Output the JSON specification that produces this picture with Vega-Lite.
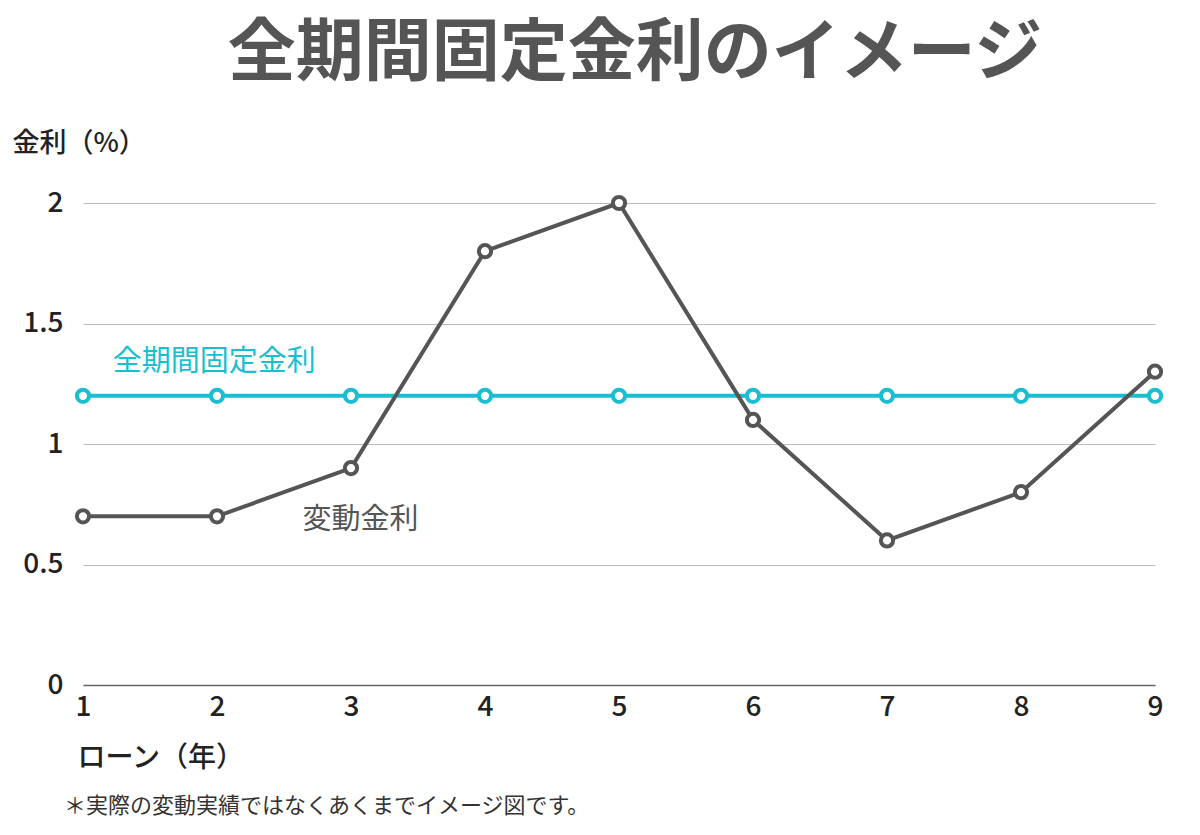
{
  "$schema": "https://vega.github.io/schema/vega-lite/v6.json",
  "width": 1072,
  "height": 482,
  "autosize": {"type": "none"},
  "padding": {"left": 83, "top": 203, "right": 45, "bottom": 150},
  "background": "white",
  "config": {"font": "Noto Sans CJK JP", "view": {"stroke": null}},
  "title": {
    "text": "全期間固定金利のイメージ",
    "fontSize": 68,
    "fontWeight": "bold",
    "color": "#555555",
    "anchor": "middle",
    "dx": 16,
    "offset": 40,
    "font": "Noto Sans CJK JP"
  },
  "datasets": {
    "rates": [
      {"year": 1, "rate": 1.2, "series": "fixed"},
      {"year": 2, "rate": 1.2, "series": "fixed"},
      {"year": 3, "rate": 1.2, "series": "fixed"},
      {"year": 4, "rate": 1.2, "series": "fixed"},
      {"year": 5, "rate": 1.2, "series": "fixed"},
      {"year": 6, "rate": 1.2, "series": "fixed"},
      {"year": 7, "rate": 1.2, "series": "fixed"},
      {"year": 8, "rate": 1.2, "series": "fixed"},
      {"year": 9, "rate": 1.2, "series": "fixed"},
      {"year": 1, "rate": 0.7, "series": "variable"},
      {"year": 2, "rate": 0.7, "series": "variable"},
      {"year": 3, "rate": 0.9, "series": "variable"},
      {"year": 4, "rate": 1.8, "series": "variable"},
      {"year": 5, "rate": 2.0, "series": "variable"},
      {"year": 6, "rate": 1.1, "series": "variable"},
      {"year": 7, "rate": 0.6, "series": "variable"},
      {"year": 8, "rate": 0.8, "series": "variable"},
      {"year": 9, "rate": 1.3, "series": "variable"}
    ],
    "labels": [
      {"year": 1.98, "rate": 1.34, "label": "全期間固定金利", "series": "fixed"},
      {"year": 3.07, "rate": 0.685, "label": "変動金利", "series": "variable"}
    ],
    "note": [
      {"year": 1, "rate": -0.5, "label": "＊実際の変動実績ではなくあくまでイメージ図です。"}
    ]
  },
  "encoding": {
    "x": {
      "field": "year",
      "type": "quantitative",
      "scale": {"domain": [1, 9], "nice": false, "zero": false},
      "axis": {
        "values": [1, 2, 3, 4, 5, 6, 7, 8, 9],
        "format": "d",
        "grid": false,
        "ticks": false,
        "domain": true,
        "domainColor": "#666666",
        "domainWidth": 1.5,
        "labelFontSize": 28,
        "labelFontWeight": 500,
        "labelColor": "#222222",
        "labelPadding": 8,
        "labelFlush": false,
        "title": "ローン（年）",
        "titleFontSize": 28,
        "titleFontWeight": 500,
        "titleColor": "#222222",
        "titleAlign": "left",
        "titleBaseline": "middle",
        "titleX": -6,
        "titleY": 73
      }
    },
    "y": {
      "field": "rate",
      "type": "quantitative",
      "scale": {"domain": [0, 2], "nice": false},
      "axis": {
        "values": [0, 0.5, 1, 1.5, 2],
        "format": "~g",
        "grid": true,
        "gridColor": "#bbbbbb",
        "gridWidth": 1,
        "domain": false,
        "ticks": false,
        "labelFontSize": 28,
        "labelFontWeight": 500,
        "labelColor": "#222222",
        "labelPadding": 20,
        "title": "金利（%）",
        "titleAngle": 0,
        "titleFontSize": 27,
        "titleFontWeight": 500,
        "titleColor": "#222222",
        "titleAlign": "left",
        "titleBaseline": "middle",
        "titleX": -71,
        "titleY": -60
      }
    }
  },
  "layer": [
    {
      "data": {"name": "rates"},
      "transform": [{"filter": "datum.series == 'fixed'"}],
      "mark": {"type": "line", "color": "#19bfd0", "strokeWidth": 4}
    },
    {
      "data": {"name": "rates"},
      "transform": [{"filter": "datum.series == 'fixed'"}],
      "mark": {"type": "point", "filled": true, "fill": "white", "stroke": "#19bfd0", "strokeWidth": 4, "size": 150, "opacity": 1}
    },
    {
      "data": {"name": "rates"},
      "transform": [{"filter": "datum.series == 'variable'"}],
      "mark": {"type": "line", "color": "#555555", "strokeWidth": 4}
    },
    {
      "data": {"name": "rates"},
      "transform": [{"filter": "datum.series == 'variable'"}],
      "mark": {"type": "point", "filled": true, "fill": "white", "stroke": "#555555", "strokeWidth": 4, "size": 150, "opacity": 1}
    },
    {
      "data": {"name": "labels"},
      "mark": {"type": "text", "fontSize": 29, "align": "center", "baseline": "middle"},
      "encoding": {
        "text": {"field": "label"},
        "color": {
          "field": "series",
          "type": "nominal",
          "scale": {"domain": ["fixed", "variable"], "range": ["#19bfd0", "#555555"]},
          "legend": null
        }
      }
    },
    {
      "data": {"name": "note"},
      "mark": {"type": "text", "fontSize": 22, "align": "left", "baseline": "middle", "dx": -19, "color": "#333333"},
      "encoding": {"text": {"field": "label"}}
    }
  ]
}
